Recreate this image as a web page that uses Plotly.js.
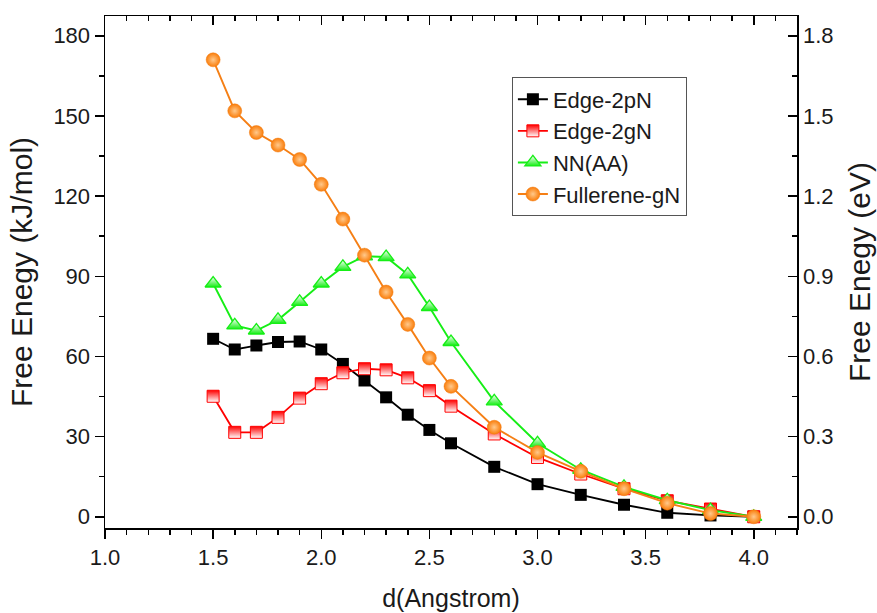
<!DOCTYPE html>
<html>
<head>
<meta charset="utf-8">
<script src="https://cdn.plot.ly/plotly-3.0.1.min.js"></script>
<style>html,body{margin:0;padding:0;background:#fff;}#chart{width:877px;height:613px;}</style>
</head>
<body>
<div id="chart"></div>
<script>
var dist = [1.5, 1.6, 1.7, 1.8, 1.9, 2.0, 2.1, 2.2, 2.3, 2.4, 2.5, 2.6, 2.8, 3.0, 3.2, 3.4, 3.6, 3.8, 4.0];
var edge2pN = [66.6, 62.6, 64.1, 65.4, 65.6, 62.6, 57.2, 51.0, 44.7, 38.2, 32.5, 27.5, 18.7, 12.2, 8.2, 4.5, 1.5, 0.5, 0.0];
var edge2gN = [45.1, 31.6, 31.6, 37.2, 44.4, 49.8, 53.9, 55.4, 55.0, 52.0, 47.2, 41.4, 31.0, 22.2, 16.0, 10.5, 6.0, 2.9, 0.0];
var nnAA = [87.3, 71.6, 69.7, 73.7, 80.4, 87.3, 93.5, 97.5, 97.2, 90.7, 78.5, 65.4, 43.2, 27.5, 17.6, 11.2, 6.2, 2.5, 0.0];
var fullereneGN = [171.0, 151.9, 143.8, 139.1, 133.7, 124.4, 111.4, 97.9, 84.1, 72.0, 59.4, 48.8, 33.5, 24.1, 17.0, 10.5, 5.1, 1.2, 0.0];
var seriesNames = ['Edge-2pN', 'Edge-2gN', 'NN(AA)', 'Fullerene-gN'];
var xTitle = 'd(Angstrom)';
var yTitle = 'Free Enegy (kJ/mol)';
var y2Title = 'Free Enegy (eV)';

var FONT = 'Arial, "Liberation Sans", sans-serif';
var TXT = '#1a1a1a';

var traces = [
  {x: dist, y: edge2pN, name: seriesNames[0], mode: 'lines+markers',
   line: {color: '#000000', width: 1.8},
   marker: {symbol: 'square', size: 12, color: '#000000'}},
  {x: dist, y: edge2gN, name: seriesNames[1], mode: 'lines+markers',
   line: {color: '#FF0000', width: 1.8},
   marker: {symbol: 'square', size: 12, color: '#FF0000',
            gradient: {type: 'vertical', color: '#FFFFFF'},
            line: {color: '#FF0000', width: 1}}},
  {x: dist, y: nnAA, name: seriesNames[2], mode: 'lines+markers',
   line: {color: '#16EE16', width: 1.9},
   marker: {symbol: 'triangle-up', size: 14, color: '#FFFFFF',
            gradient: {type: 'vertical', color: '#16EE16'},
            line: {color: '#16EE16', width: 1.3}}},
  {x: dist, y: fullereneGN, name: seriesNames[3], mode: 'lines+markers',
   line: {color: '#F57F15', width: 1.9},
   marker: {symbol: 'circle', size: 14, color: '#FA7D0A',
            gradient: {type: 'radial', color: '#FFC98C'},
            line: {color: '#F07A10', width: 0.5}}},
  {x: [], y: [], xaxis: 'x2', yaxis: 'y2', showlegend: false, hoverinfo: 'skip', mode: 'markers'}
];

var axisCommon = {
  showline: true, linecolor: '#000', linewidth: 1.5, zeroline: false, showgrid: false,
  tickcolor: '#000', tickwidth: 1.5, ticklen: 9,
  tickfont: {family: FONT, size: 22, color: TXT}
};

var layout = {
  width: 877, height: 613,
  margin: {l: 105, r: 80, t: 16, b: 85},
  paper_bgcolor: '#fff', plot_bgcolor: '#fff',
  font: {family: FONT, color: TXT},
  showlegend: true,
  legend: {
    x: 0.588, y: 0.88, xanchor: 'left', yanchor: 'top',
    bgcolor: '#fff', bordercolor: '#555', borderwidth: 1,
    font: {family: FONT, size: 22, color: TXT},
    tracegroupgap: 0
  },
  xaxis: Object.assign({}, axisCommon, {
    range: [1.0, 4.2], tick0: 1.0, dtick: 0.5, ticks: 'outside', tickformat: '.1f',
    minor: {dtick: 0.1, ticks: 'outside', ticklen: 5, tickcolor: '#000', tickwidth: 1.5},
    title: {text: xTitle, font: {family: FONT, size: 25, color: TXT}, standoff: 20}
  }),
  yaxis: Object.assign({}, axisCommon, {
    range: [-4.2, 187.4], tick0: 0, dtick: 30, ticks: 'outside',
    minor: {dtick: 15, ticks: 'outside', ticklen: 5, tickcolor: '#000', tickwidth: 1.5},
    title: {text: yTitle, font: {family: FONT, size: 30, color: TXT}, standoff: 12}
  }),
  xaxis2: Object.assign({}, axisCommon, {
    overlaying: 'x', side: 'top', range: [1.0, 4.2], tick0: 1.0, dtick: 0.5,
    ticks: 'inside', showticklabels: false,
    minor: {dtick: 0.1, ticks: 'inside', ticklen: 5, tickcolor: '#000', tickwidth: 1.5}
  }),
  yaxis2: Object.assign({}, axisCommon, {
    overlaying: 'y', side: 'right', anchor: 'x2', range: [-0.042, 1.874], tick0: 0, dtick: 0.3,
    ticks: 'inside', tickformat: '.1f',
    minor: {dtick: 0.15, ticks: 'inside', ticklen: 5, tickcolor: '#000', tickwidth: 1.5},
    title: {text: y2Title, font: {family: FONT, size: 30, color: TXT}, standoff: 16}
  })
};

Plotly.newPlot('chart', traces, layout, {displayModeBar: false, staticPlot: true});
</script>
</body>
</html>
